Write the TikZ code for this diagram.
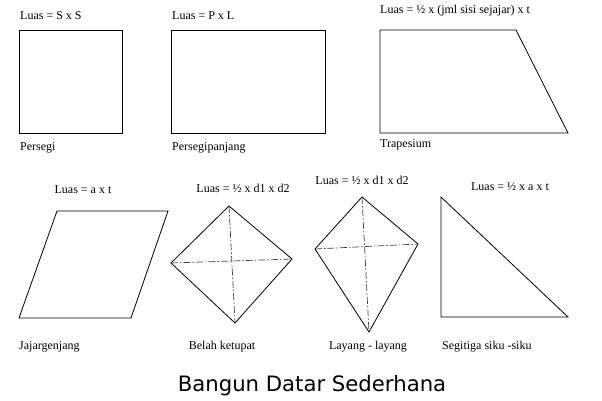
\documentclass[tikz,border=0pt]{standalone}
\usepackage{fontspec}
\setmainfont{Liberation Serif}
\newfontfamily\titlefont{DejaVu Sans}

\begin{document}
\begin{tikzpicture}[
			x=1pt,
			y=-1pt,
			outline/.style={
				draw=black,
				line width=0.8pt,
				line join=miter
			},
			diagonal/.style={
				draw=black!75,
				line width=0.7pt,
				dash pattern=on 7pt off 2pt on 1.5pt off 2pt
			},
			formula/.style={
				font=\fontsize{12}{14}\selectfont,
				inner sep=0pt
			},
			caption/.style={
				font=\fontsize{12}{14}\selectfont,
				inner sep=0pt,
				anchor=west
			}
			]
			\useasboundingbox (0,0) rectangle (602,400);
			
			% Persegi
			\coordinate (sq1) at (19,30);
			\coordinate (sq2) at (122,133);
			\draw[outline] (sq1) rectangle (sq2);
			\node[formula, anchor=west] (sqf) at (20,16) {Luas = S x S};
			\node[caption] (sqc) at (20,148) {Persegi};
			
			% Persegipanjang
			\coordinate (re1) at (171,30);
			\coordinate (re2) at (325,133);
			\draw[outline] (re1) rectangle (re2);
			\node[formula, anchor=west] (ref) at (172,16) {Luas = P x L};
			\node[caption] (rec) at (172,148) {Persegipanjang};
			
			% Trapesium
			\coordinate (tr1) at (380,30);
			\coordinate (tr2) at (516,30);
			\coordinate (tr3) at (568,133);
			\coordinate (tr4) at (380,133);
			\draw[outline] (tr1) -- (tr2) -- (tr3) -- (tr4) -- cycle;
			\node[formula, anchor=west] (trf) at (380,11) {Luas = ½ x (jml sisi sejajar) x t};
			\node[caption] (trc) at (380,145) {Trapesium};
			
			% Jajargenjang
			\coordinate (pa1) at (57,211);
			\coordinate (pa2) at (168,211);
			\coordinate (pa3) at (131,318);
			\coordinate (pa4) at (19,318);
			\draw[outline] (pa1) -- (pa2) -- (pa3) -- (pa4) -- cycle;
			\node[formula] (paf) at (83,190) {Luas = a x t};
			\node[caption] (pac) at (19,347) {Jajargenjang};
			
			% Belah ketupat
			\coordinate (rh1) at (229,206);
			\coordinate (rh2) at (292,259);
			\coordinate (rh3) at (235,323);
			\coordinate (rh4) at (171,263);
			\draw[outline] (rh1) -- (rh2) -- (rh3) -- (rh4) -- cycle;
			\draw[diagonal] (rh1) -- (rh3);
			\draw[diagonal] (rh4) -- (rh2);
			\node[formula] (rhf) at (243,188) {Luas = ½ x d1 x d2};
			\node[formula] (rhc) at (222,347) {Belah ketupat};
			
			% Layang - layang
			\coordinate (ki1) at (362,197);
			\coordinate (ki2) at (418,244);
			\coordinate (ki3) at (369,332);
			\coordinate (ki4) at (315,249);
			\draw[outline] (ki1) -- (ki2) -- (ki3) -- (ki4) -- cycle;
			\draw[diagonal] (ki1) -- (ki3);
			\draw[diagonal] (ki4) -- (ki2);
			\node[formula] (kif) at (362,180) {Luas = ½ x d1 x d2};
			\node[formula] (kic) at (368,347) {Layang - layang};
			
			% Segitiga siku-siku
			\coordinate (st1) at (441,197);
			\coordinate (st2) at (441,317);
			\coordinate (st3) at (568,317);
			\draw[outline] (st1) -- (st2) -- (st3) -- cycle;
			\node[formula] (stf) at (510,187) {Luas = ½ x a x t};
			\node[caption] (stc) at (442,347) {Segitiga siku -siku};
			
			% Judul
			\node[inner sep=0pt, font=\titlefont\fontsize{21.2}{25}\selectfont] (title) at (312,386) {Bangun Datar Sederhana};
		\end{tikzpicture}
\end{document}
